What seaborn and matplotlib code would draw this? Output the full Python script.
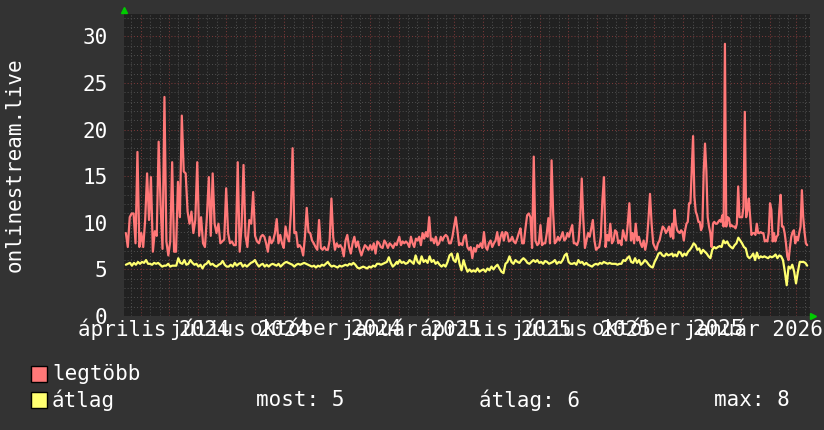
import numpy as np
import pandas as pd
import seaborn as sns
import matplotlib.pyplot as plt
import matplotlib.dates as mdates
from matplotlib.patches import Rectangle

# graph time span
start = "2024-03-14"
end = "2026-03-16"

# date spans of the five stretches the readings were taken from
seg_dates = [("2024-03-16", "2024-08-05"), ("2024-08-07", "2024-12-30"),
             ("2024-12-31", "2025-05-27"), ("2025-05-29", "2025-10-20"),
             ("2025-10-21", "2026-03-13")]

# legtöbb (max) readings
max_1 = [8.9, 7.4, 10.6, 11.0, 11.0, 7.8, 17.6, 7.4, 8.9, 7.4, 10.3, 15.3, 10.3, 14.9, 6.9, 9.1, 8.6, 18.7,
         11.9, 7.2, 23.5, 8.0, 6.5, 8.0, 16.5, 6.9, 6.9, 14.4, 10.6, 21.5, 15.5, 15.3, 11.2, 9.9, 11.2, 8.9,
         10.3, 16.5, 8.6, 10.6, 7.8, 7.4, 10.6, 14.9, 8.6, 15.3, 9.9, 8.9, 9.9, 7.8, 8.0, 8.2, 13.7, 8.9,
         7.8, 8.0, 7.6, 7.6, 16.5, 6.9, 9.6, 16.2, 8.6, 7.4, 10.3, 9.9, 13.3, 8.6, 8.0, 7.8]
max_2 = [8.5, 8.7, 8.5, 7.8, 6.9, 8.5, 7.8, 8.1, 8.9, 10.4, 7.8, 8.7, 7.8, 7.3, 9.6, 8.5, 8.0, 11.0, 18.0,
         8.9, 9.0, 7.4, 7.6, 7.3, 6.5, 8.5, 11.6, 9.0, 8.9, 8.1, 7.8, 7.4, 7.1, 10.3, 7.3, 7.1, 7.4, 7.1,
         7.1, 8.1, 12.6, 8.5, 7.1, 7.8, 7.4, 7.6, 7.3, 6.4, 8.1, 8.7, 7.4, 6.7, 7.8, 8.5, 7.4, 8.0, 7.1,
         6.5, 7.1, 7.6, 7.4, 7.1, 7.6, 7.1, 7.8, 6.7, 8.0, 7.8, 7.4, 7.3, 8.1, 7.8, 7.3, 7.8, 7.6, 7.3,
         7.8, 7.6]
max_3 = [8.0, 8.5, 7.6, 8.0, 7.8, 8.0, 7.8, 7.4, 8.5, 7.8, 7.4, 8.3, 8.1, 8.5, 7.6, 8.9, 8.3, 9.0, 8.5,
         10.6, 8.1, 8.3, 7.8, 8.5, 7.6, 7.8, 8.5, 8.1, 8.5, 8.7, 8.5, 7.8, 7.8, 8.5, 9.6, 10.6, 9.2, 7.6,
         7.8, 7.6, 8.5, 8.7, 7.4, 7.1, 7.4, 6.2, 7.3, 6.9, 7.6, 7.4, 7.8, 7.3, 9.0, 7.4, 7.1, 7.8, 8.1,
         7.4, 7.8, 8.1, 9.0, 7.6, 8.5, 9.0, 8.1, 9.0, 8.9, 8.0, 8.1, 8.5, 8.0, 7.8, 8.3, 8.9, 9.4, 7.8,
         7.8, 9.4, 10.8, 11.0, 10.6, 7.3, 17.1, 8.1]
max_4 = [7.6, 7.8, 9.75, 7.6, 7.8, 7.8, 8.9, 10.5, 7.8, 16.7, 11.0, 7.8, 8.0, 8.5, 8.1, 8.5, 9.0, 8.1, 8.3,
         8.9, 8.5, 9.2, 9.75, 7.8, 7.8, 7.6, 8.1, 10.3, 14.75, 10.3, 7.3, 8.1, 8.9, 8.5, 9.4, 10.3, 8.1,
         7.1, 7.3, 7.4, 8.5, 12.4, 14.9, 7.4, 8.7, 8.1, 9.9, 7.8, 8.1, 9.2, 9.0, 7.8, 8.1, 7.6, 9.2, 8.5,
         8.1, 9.9, 12.1, 8.1, 8.9, 7.8, 9.9, 8.1, 8.5, 7.8, 7.4, 8.1, 7.1, 8.0, 10.3, 13.1, 9.9, 7.8, 7.4,
         7.1, 7.8, 8.1, 8.9, 9.6, 9.4, 8.9, 9.2, 9.6, 8.5, 9.9]
max_5 = [8.3, 11.4, 9.9, 9.2, 9.0, 8.9, 9.2, 9.0, 8.1, 9.2, 9.9, 10.1, 12.1, 12.1, 15.6, 19.3, 12.8, 11.2,
         10.8, 10.1, 10.1, 9.2, 9.6, 15.5, 18.5, 15.6, 10.6, 9.6, 8.9, 7.4, 9.9, 10.1, 9.9, 9.9, 10.1,
         10.3, 10.1, 10.8, 9.6, 29.2, 9.6, 10.6, 10.5, 9.6, 9.75, 9.6, 9.6, 9.4, 9.9, 13.9, 10.6, 10.6,
         10.6, 11.7, 21.9, 10.6, 11.4, 12.6, 10.6, 8.7, 8.9, 8.9, 8.7, 9.9, 8.9, 8.9, 9.0, 8.9, 8.9, 8.0,
         8.1, 8.0, 8.9, 12.1, 11.4, 8.0, 8.9, 8.0, 8.5, 8.7, 11.4, 13.0, 9.6, 9.6, 8.9, 7.8, 6.4, 6.0, 7.4,
         8.5, 9.0, 9.2, 7.8, 8.5, 8.1, 8.9, 9.6, 13.5, 10.6, 9.0, 7.8, 7.6]

# átlag (average) readings
avg_1 = [5.5, 5.6, 5.7, 5.4, 5.7, 5.5, 5.8, 5.6, 5.8, 5.7, 6.0, 5.6, 5.6, 5.5, 5.7, 5.6, 5.7, 5.5, 5.3,
         5.4, 5.4, 5.6, 5.3, 5.4, 5.4, 5.4, 6.2, 5.7, 5.6, 6.0, 5.5, 5.6, 6.0, 5.7, 5.5, 5.6, 5.3, 5.5,
         5.1, 5.5, 5.6, 5.9, 5.5, 5.6, 5.4, 5.3, 5.5, 5.6, 5.9, 5.5, 5.3, 5.3, 5.5, 5.3, 5.7, 5.4, 5.6,
         5.7, 5.3, 5.5, 5.3, 5.5, 5.7, 5.8, 6.0, 5.6, 5.3]
avg_2 = [5.5, 5.6, 5.3, 5.5, 5.3, 5.5, 5.6, 5.5, 5.4, 5.6, 5.3, 5.5, 5.7, 5.8, 5.7, 5.6, 5.5, 5.3, 5.5,
         5.6, 5.5, 5.6, 5.7, 5.6, 5.5, 5.4, 5.3, 5.4, 5.2, 5.4, 5.3, 5.5, 5.4, 5.6, 5.8, 5.5, 5.3, 5.4,
         5.3, 5.2, 5.4, 5.3, 5.4, 5.5, 5.4, 5.6, 5.5, 5.7, 5.5, 5.2, 5.1, 5.2, 5.3, 5.2, 5.1, 5.3, 5.2,
         5.4, 5.3, 5.6, 5.6, 5.5, 5.6, 5.7, 5.8, 6.3, 5.7, 5.3, 5.5, 5.8]
avg_3 = [5.6, 6.0, 5.7, 5.8, 5.6, 5.7, 6.0, 5.8, 5.6, 6.5, 5.8, 5.6, 6.4, 5.8, 6.0, 5.7, 6.4, 5.8, 6.0,
         5.6, 5.8, 5.5, 5.3, 5.5, 5.3, 5.8, 6.5, 6.7, 6.0, 5.8, 6.7, 5.6, 4.9, 6.0, 5.3, 4.75, 5.0, 4.75,
         4.9, 4.75, 5.1, 4.75, 4.9, 5.0, 4.75, 5.1, 4.9, 5.3, 5.0, 5.3, 5.5, 5.1, 4.75, 4.6, 5.6, 5.8, 6.4,
         5.8, 5.6, 6.0, 5.8, 5.7, 6.0, 6.2, 6.0, 5.7, 5.6, 5.8, 6.0, 5.8]
avg_4 = [6.0, 5.7, 5.8, 5.6, 5.9, 5.8, 5.6, 5.7, 5.8, 6.0, 5.6, 5.8, 5.7, 6.0, 6.5, 6.7, 5.8, 5.6, 5.6,
         5.7, 5.5, 6.0, 5.7, 5.8, 5.5, 5.7, 5.5, 5.4, 5.3, 5.5, 5.6, 5.5, 5.7, 5.6, 5.8, 5.7, 5.6, 5.7,
         5.6, 5.6, 5.6, 5.5, 5.6, 5.6, 6.0, 5.9, 6.2, 6.4, 5.8, 5.7, 6.2, 5.7, 6.0, 5.5, 5.7, 6.0, 5.8,
         5.5, 5.3, 5.2, 5.8, 6.2, 6.7, 6.8, 6.5, 6.4, 6.7, 6.5, 6.6, 6.7]
avg_5 = [6.4, 6.6, 6.4, 6.9, 6.8, 6.4, 6.7, 6.5, 6.9, 7.1, 7.4, 7.8, 7.6, 7.1, 7.25, 6.7, 7.1, 6.9, 6.7,
         6.4, 6.2, 7.1, 7.4, 7.25, 7.4, 7.5, 7.4, 8.1, 7.8, 8.0, 7.6, 7.4, 7.25, 7.6, 7.8, 8.4, 8.1, 7.8,
         7.4, 7.25, 6.4, 6.2, 6.4, 6.7, 6.0, 6.8, 6.2, 6.4, 6.3, 6.4, 6.3, 6.2, 6.4, 6.3, 6.4, 6.6, 6.2,
         6.5, 6.4, 6.0, 4.75, 3.3, 5.3, 5.1, 5.5, 4.75, 3.5, 4.75, 5.8, 5.8, 5.8, 5.7, 5.4]

tick_dates = ["2024-04-15", "2024-07-15", "2024-10-15", "2025-01-15",
              "2025-04-15", "2025-07-15", "2025-10-15", "2026-01-15"]
tick_labels = ["április 2024", "július 2024", "október 2024", "január 2025",
               "április 2025", "július 2025", "október 2025", "január 2026"]
y_ticks = [0, 5, 10, 15, 20, 25, 30]

legend_now, legend_avg, legend_max = 5, 6, 8

MAXC = "#ff7878"
AVGC = "#ffff70"
BG = "#333333"
PLOT_BG = "#212121"


def build(parts):
    frames = []
    for (a, b), vals in zip(seg_dates, parts):
        frames.append(pd.DataFrame({"t": pd.date_range(a, b, periods=len(vals)), "v": vals}))
    return pd.concat(frames, ignore_index=True)


df_max = build([max_1, max_2, max_3, max_4, max_5])
df_avg = build([avg_1, avg_2, avg_3, avg_4, avg_5])

sns.set_style("dark")
plt.rcParams["font.family"] = ["DejaVu Sans Mono", "DejaVu Sans"]

W, H = 824, 430
fig = plt.figure(figsize=(W / 100, H / 100), dpi=100, facecolor=BG)
ax = fig.add_axes([124 / W, 114 / H, 686 / W, 302 / H])
ax.set_facecolor(PLOT_BG)

# grid: gray minor, red major
ax.set_ylim(0, 32.4)
ax.set_xlim(pd.Timestamp(start), pd.Timestamp(end))
ax.set_yticks(y_ticks)
ax.set_yticks(np.arange(0, 33, 1), minor=True)
ax.xaxis.set_minor_locator(mdates.DayLocator(bymonthday=[11, 21]))
ax.grid(axis="y", which="minor", color="#4c4c4c", linestyle=(0, (1, 2)), linewidth=0.75)
ax.grid(axis="x", which="minor", color="#4c4c4c", linestyle=(0, (1, 2)), linewidth=0.75)
ax.grid(axis="y", which="major", color="#7a3838", linestyle=(0, (1, 2)), linewidth=0.75)
for m in pd.date_range(start, end, freq="MS"):
    ax.axvline(m, color="#7a3838", linestyle=(0, (1, 2)), linewidth=0.75, zorder=0.5)
ax.set_axisbelow(True)

sns.lineplot(data=df_max, x="t", y="v", ax=ax, color=MAXC, linewidth=1.6, zorder=3)
sns.lineplot(data=df_avg, x="t", y="v", ax=ax, color=AVGC, linewidth=1.6, zorder=4)

ax.set_xticks(pd.to_datetime(tick_dates))
ax.set_xticklabels(tick_labels)
ax.tick_params(axis="both", which="both", length=0, colors="white", labelsize=15)
ax.tick_params(axis="y", pad=12)
ax.tick_params(axis="x", pad=2)
ax.set_xlabel("")
ax.set_ylabel("")
for s in ax.spines.values():
    s.set_visible(False)

fig.text(15 / W, 1 - 165 / H, "onlinestream.live", rotation=90, color="white",
         fontsize=15, ha="center", va="center")

# axis arrows
ax.plot([0], [1.013], marker="^", color="#00cc00", markersize=5, transform=ax.transAxes, clip_on=False)
ax.plot([1.005], [0], marker=">", color="#00cc00", markersize=5, transform=ax.transAxes, clip_on=False)

# legend
for yy, c in [(374, MAXC), (400, AVGC)]:
    fig.patches.append(Rectangle((31 / W, 1 - (yy + 8) / H), 16 / W, 16 / H, transform=fig.transFigure,
                                 facecolor=c, edgecolor="black", linewidth=1))
fig.text(52 / W, 1 - 374 / H, "legtöbb", color="white", fontsize=15, va="center")
fig.text(52 / W, 1 - 400 / H, "átlag", color="white", fontsize=15, va="center")
fig.text(256 / W, 1 - 400 / H, f"most: {legend_now}", color="white", fontsize=15, va="center")
fig.text(479 / W, 1 - 400 / H, f"átlag: {legend_avg}", color="white", fontsize=15, va="center")
fig.text(714 / W, 1 - 400 / H, f"max: {legend_max}", color="white", fontsize=15, va="center")

fig.savefig("out.png", dpi=100, facecolor=BG)
